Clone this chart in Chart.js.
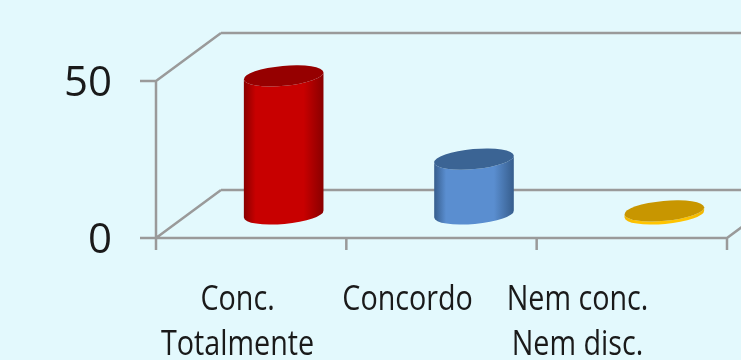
<!DOCTYPE html>
<html>
<head>
<meta charset="utf-8">
<script src="https://cdn.jsdelivr.net/npm/chart.js@4.4.0/dist/chart.umd.min.js"></script>
<style>
  html, body { margin: 0; padding: 0; background: #e3f9fd; }
  #wrap { width: 741px; height: 360px; }
</style>
</head>
<body>
<div id="wrap"><canvas id="myChart"></canvas></div>
<script>
// dados
var categorias = [['Conc.', 'Totalmente'], ['Concordo'], ['Nem conc.', 'Nem disc.']];
var valores = [44, 17.5, 1];
var ticksY = [0, 50];

var cores = [
    { topo: '#960000', borda: '#880000', meio: '#c80000' },
    { topo: '#3b6494', borda: '#365d8c', meio: '#5a8ed0' },
    { topo: '#c89600', borda: '#f2b600', meio: '#ffc400' }
];

var cinza = '#9a9a9a';
var prof = { dx: 65, dy: -48 };

var plugin3d = {
    id: 'cilindros',
    beforeDraw: function(chart) {
        var ctx = chart.ctx;
        var x = chart.scales.x, y = chart.scales.y;
        var y0 = y.getPixelForValue(0), y50 = y.getPixelForValue(50);
        ctx.save();
        ctx.fillStyle = '#e3f9fd';
        ctx.fillRect(0, 0, chart.width, chart.height);
        ctx.strokeStyle = cinza;
        ctx.lineWidth = 2.5;
        ctx.beginPath();
        // parede de tras
        ctx.moveTo(x.left + prof.dx, y50 + prof.dy);
        ctx.lineTo(chart.width + 5, y50 + prof.dy);
        ctx.moveTo(x.left + prof.dx, y0 + prof.dy);
        ctx.lineTo(chart.width + 5, y0 + prof.dy);
        // parede lateral
        ctx.moveTo(x.left, y50);
        ctx.lineTo(x.left + prof.dx, y50 + prof.dy);
        ctx.moveTo(x.left, y0);
        ctx.lineTo(x.left + prof.dx, y0 + prof.dy);
        // eixo da frente
        ctx.moveTo(x.left, y50);
        ctx.lineTo(x.left, y0);
        ctx.moveTo(x.left, y0);
        ctx.lineTo(x.right, y0);
        ctx.lineTo(x.right + prof.dx, y0 + prof.dy);
        // marcas
        ticksY.forEach(function(v) {
            var p = y.getPixelForValue(v);
            ctx.moveTo(x.left - 16, p);
            ctx.lineTo(x.left, p);
        });
        var n = categorias.length;
        for (var i = 0; i <= n; i++) {
            var px = x.left + (x.right - x.left) * i / n;
            ctx.moveTo(px, y0);
            ctx.lineTo(px, y0 + 12);
        }
        ctx.stroke();

        // rotulos
        ctx.fillStyle = '#1a1a1a';
        ctx.font = '42px "Open Sans"';
        ctx.textAlign = 'right';
        ctx.textBaseline = 'alphabetic';
        ticksY.forEach(function(v) {
            ctx.fillText(String(v), x.left - 44, y.getPixelForValue(v) + 15);
        });
        ctx.font = '35px "Open Sans"';
        ctx.textAlign = 'center';
        var passo = (x.right - x.left) / n * 0.893;
        categorias.forEach(function(linhas, i) {
            var cx = x.left + passo * (i + 0.48);
            linhas.forEach(function(t, j) {
                ctx.save();
                ctx.translate(cx, y0 + 72 + j * 45);
                ctx.scale(0.82, 1);
                ctx.fillText(t, 0, 0);
                ctx.restore();
            });
        });
        ctx.restore();
    },
    afterDatasetsDraw: function(chart) {
        var ctx = chart.ctx;
        var meta = chart.getDatasetMeta(0);
        var rot = -0.09, ry = 10;
        ctx.save();
        meta.data.forEach(function(bar, i) {
            var c = cores[i];
            var rx = bar.width / 2;
            var cx = bar.x + prof.dx / 2;
            var base = bar.base + prof.dy / 2;
            var topo = bar.y + prof.dy / 2;
            var g = ctx.createLinearGradient(cx - rx, 0, cx + rx, 0);
            g.addColorStop(0, c.borda);
            g.addColorStop(0.15, c.meio);
            g.addColorStop(0.75, c.meio);
            g.addColorStop(1, c.borda);
            var ex = rx * Math.cos(rot), ey = rx * Math.sin(rot);
            ctx.beginPath();
            ctx.moveTo(cx - ex, topo - ey);
            ctx.lineTo(cx - ex, base - ey);
            ctx.ellipse(cx, base, rx, ry, rot, Math.PI, 0, true);
            ctx.lineTo(cx + ex, topo + ey);
            ctx.ellipse(cx, topo, rx, ry, rot, 0, Math.PI, false);
            ctx.closePath();
            ctx.fillStyle = g;
            ctx.fill();
            ctx.beginPath();
            ctx.ellipse(cx, topo, rx, ry, rot, 0, Math.PI * 2);
            ctx.fillStyle = c.topo;
            ctx.fill();
        });
        ctx.restore();
    }
};

var ctx = document.getElementById('myChart').getContext('2d');
var myChart = new Chart(ctx, {
    type: 'bar',
    data: {
        labels: categorias,
        datasets: [{
            data: valores,
            backgroundColor: 'rgba(0,0,0,0)',
            borderWidth: 0,
            categoryPercentage: 1,
            barPercentage: 0.42
        }]
    },
    options: {
        responsive: true,
        maintainAspectRatio: false,
        animation: false,
        layout: { padding: { left: 156, right: 14, top: 81, bottom: 122 } },
        plugins: { legend: { display: false }, tooltip: { enabled: false } },
        scales: {
            x: { display: false },
            y: { display: false, min: 0, max: 50, ticks: { stepSize: 50 } }
        }
    },
    plugins: [plugin3d]
});
</script>
</body>
</html>
